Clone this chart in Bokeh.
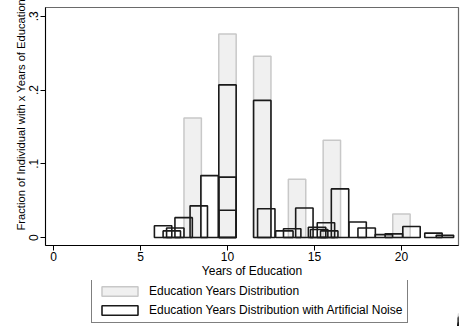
from bokeh.plotting import figure
from bokeh.models import Range1d, FixedTicker, Legend, LegendItem, Title
from bokeh.layouts import column
from bokeh.embed import file_html
from bokeh.resources import INLINE

# Education years distribution (original)
edu_years = [8, 10, 12, 14, 16, 20]
edu_frac = [0.162, 0.276, 0.246, 0.079, 0.132, 0.032]

# Education years distribution with artificial noise
noise_years = [6.3, 6.8, 7.0, 7.48, 8.35, 8.97, 10.0, 10.0, 10.0, 12.0, 12.23,
               13.27, 13.72, 14.42, 15.15, 15.27, 15.66, 15.85, 16.47, 17.48,
               18.0, 18.99, 19.56, 20.58, 21.84, 22.5]
noise_frac = [0.016, 0.009, 0.013, 0.027, 0.043, 0.084, 0.207, 0.082, 0.037,
              0.186, 0.039, 0.009, 0.012, 0.040, 0.014, 0.011, 0.020, 0.009,
              0.066, 0.021, 0.013, 0.004, 0.005, 0.015, 0.006, 0.003]

x_ticks = [0, 5, 10, 15, 20]
y_ticks = [0, 0.1, 0.2, 0.3]
y_tick_labels = ["0", ".1", ".2", ".3"]

legend_labels = ["Education Years Distribution",
                 "Education Years Distribution with Artificial Noise"]

FONT = "Liberation Sans"
GRAY_STYLE = dict(fill_color="#f0f0f0", line_color="#c8c8c8", line_width=1.5)
NOISE_STYLE = dict(fill_alpha=0, line_color="#1a1a1a", line_width=1.6)

p = figure(width=462, height=280, output_backend="svg", toolbar_location=None,
           x_range=Range1d(-0.46, 23.28), y_range=Range1d(-0.0108, 0.312),
           min_border_left=45, min_border_right=4, min_border_top=7,
           min_border_bottom=34)

p.vbar(x=edu_years, top=edu_frac, bottom=0, width=1, **GRAY_STYLE)
p.vbar(x=noise_years, top=noise_frac, bottom=0, width=1, **NOISE_STYLE)

p.xgrid.visible = False
p.ygrid.visible = False
p.outline_line_color = "#6a6a6a"
p.outline_line_width = 1.2
p.background_fill_color = "white"
p.border_fill_color = "white"

xa = p.xaxis[0]
xa.ticker = FixedTicker(ticks=x_ticks)
xa.minor_tick_line_color = None
xa.major_tick_out = 5
xa.major_tick_in = 0
xa.axis_line_color = "black"
xa.major_tick_line_color = "black"
xa.major_label_text_font = FONT
xa.major_label_text_font_size = "12px"
xa.major_label_text_color = "black"
xa.major_label_standoff = 1
xa.axis_label = "Years of Education"
xa.axis_label_text_font = FONT
xa.axis_label_text_font_size = "12px"
xa.axis_label_text_font_style = "normal"
xa.axis_label_text_color = "black"
xa.axis_label_standoff = 0

ya = p.yaxis[0]
ya.ticker = FixedTicker(ticks=y_ticks)
ya.major_label_overrides = {t: l for t, l in zip(y_ticks, y_tick_labels)}
ya.minor_tick_line_color = None
ya.major_tick_out = 5
ya.major_tick_in = 0
ya.axis_line_color = "black"
ya.major_tick_line_color = "black"
ya.major_label_orientation = "vertical"
ya.major_label_text_font = FONT
ya.major_label_text_font_size = "12px"
ya.major_label_text_color = "black"
ya.major_label_standoff = 2

ytitle = Title(text="Fraction of Individual with x Years of Education",
               align="left", offset=15, text_font=FONT,
               text_font_size="11.2px", text_font_style="normal",
               text_color="black", standoff=0)
p.add_layout(ytitle, "left")

# Legend area (separate panel below the chart; its frame aligns with the chart's frame)
lg = figure(width=462, height=46, output_backend="svg", toolbar_location=None,
            x_range=Range1d(0, 1), y_range=Range1d(0, 1),
            x_axis_location=None, y_axis_location=None,
            min_border_left=0, min_border_right=0, min_border_top=0,
            min_border_bottom=0)
lg.xgrid.visible = False
lg.ygrid.visible = False
lg.outline_line_color = None
lg.background_fill_color = "white"
lg.border_fill_color = "white"
# same series, drawn outside this panel's visible range: only their legend swatches show
g1 = lg.vbar(x=edu_years, top=edu_frac, bottom=0, width=1, **GRAY_STYLE)
g2 = lg.vbar(x=noise_years, top=noise_frac, bottom=0, width=1, **NOISE_STYLE)

legend = Legend(items=[
    LegendItem(label=legend_labels[0], renderers=[g1]),
    LegendItem(label=legend_labels[1], renderers=[g2]),
], location=(46, 3), orientation="vertical")
legend.label_text_font = FONT
legend.label_text_font_size = "12px"
legend.label_text_color = "black"
legend.glyph_width = 45
legend.glyph_height = 12
legend.label_height = 12
legend.label_standoff = 7
legend.spacing = 5
legend.padding = 5
legend.margin = 0
legend.border_line_color = "black"
legend.border_line_width = 1
legend.background_fill_color = "white"
lg.add_layout(legend)

layout = column(p, lg, spacing=0)
open("out.html", "w").write(file_html(layout, INLINE))
